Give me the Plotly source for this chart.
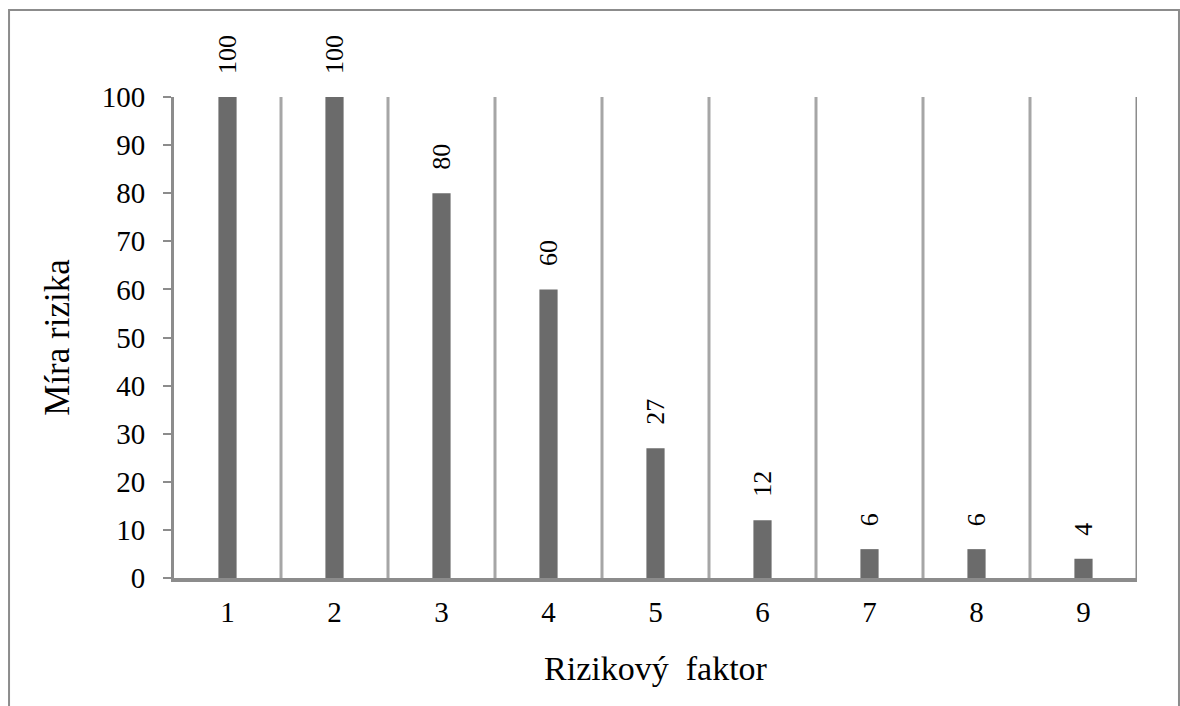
import plotly.graph_objects as go

# Rizikové faktory a jejich míra rizika
faktory = [1, 2, 3, 4, 5, 6, 7, 8, 9]
mira = [100, 100, 80, 60, 27, 12, 6, 6, 4]
y_ticks = [0, 10, 20, 30, 40, 50, 60, 70, 80, 90, 100]

SERIF = "Liberation Serif"
BAR = "#6b6b6b"
GRID = "#a6a6a6"
AXIS = "#8c8c8c"

fig = go.Figure()
fig.add_trace(go.Bar(
    x=faktory, y=mira, width=0.17,
    marker=dict(color=BAR, line=dict(width=0)),
    hoverinfo="x+y",
))

# hodnoty nad sloupci, otočené o 90°
for f, m in zip(faktory, mira):
    fig.add_annotation(
        x=f, y=m, text=str(m), textangle=-90, showarrow=False,
        xanchor="center", yanchor="bottom", yshift=21,
        font=dict(family=SERIF, size=26, color="black"),
    )

# svislé dělicí čáry mezi kategoriemi
for f in faktory:
    fig.add_shape(type="line", xref="x", yref="paper",
                  x0=f + 0.5, x1=f + 0.5, y0=0, y1=1,
                  line=dict(color=AXIS if f == faktory[-1] else GRID, width=3))

# rámeček kolem grafu
fig.add_shape(type="rect", xref="paper", yref="paper",
              x0=-0.1713, x1=1.0436, y0=-0.4, y1=1.1809,
              line=dict(color="#8c8c8c", width=2), layer="below")

fig.update_layout(
    width=1180, height=706,
    margin=dict(l=174, r=43, t=97, b=128),
    paper_bgcolor="white", plot_bgcolor="white",
    showlegend=False,
    font=dict(family=SERIF, color="black"),
    xaxis=dict(
        range=[0.5, 9.5], tickvals=faktory, ticktext=[str(f) for f in faktory],
        showgrid=False, zeroline=False, showline=True,
        linecolor=AXIS, linewidth=4, ticks="", ticklabelstandoff=5,
        tickfont=dict(family=SERIF, size=29),
        title=dict(text="Rizikový  faktor", font=dict(family=SERIF, size=34), standoff=30),
    ),
    yaxis=dict(
        range=[0, 100], tickvals=y_ticks,
        showgrid=False, zeroline=False, showline=True,
        linecolor=AXIS, linewidth=3, ticks="outside", ticklen=8,
        tickcolor=AXIS, tickwidth=2, ticklabelstandoff=12,
        tickfont=dict(family=SERIF, size=29),
        title=dict(text="Míra rizika", font=dict(family=SERIF, size=35), standoff=22),
    ),
)

fig.write_html("out.html")
